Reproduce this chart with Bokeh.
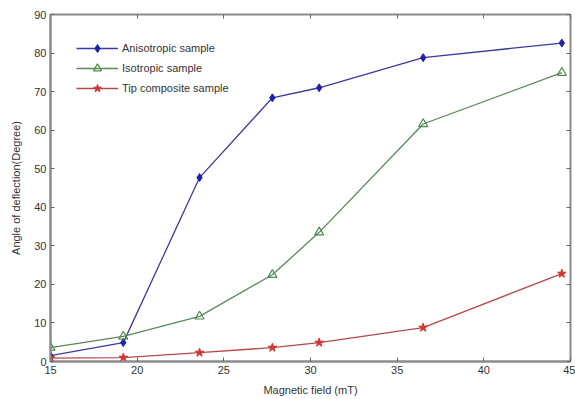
from bokeh.plotting import figure
from bokeh.models import LinearAxis, Range1d, Legend, LegendItem, FixedTicker
from bokeh.embed import file_html
from bokeh.resources import INLINE

field = [15, 19.2, 23.6, 27.8, 30.5, 36.5, 44.5]
aniso = [1.5, 4.9, 47.7, 68.4, 71.0, 78.8, 82.6]
iso = [3.6, 6.5, 11.7, 22.5, 33.5, 61.6, 74.9]
tip = [0.9, 1.0, 2.3, 3.6, 4.9, 8.8, 22.8]

x_ticks = [15, 20, 25, 30, 35, 40, 45]
y_ticks = [0, 10, 20, 30, 40, 50, 60, 70, 80, 90]

FONT = "Liberation Sans"
AX = "#8c8c8c"

p = figure(width=575, height=399, output_backend="svg", toolbar_location=None,
           x_range=Range1d(15, 45), y_range=Range1d(0, 90),
           min_border_left=50, min_border_top=14, min_border_bottom=38, min_border_right=5,
           x_axis_label="Magnetic field (mT)", y_axis_label="Angle of deflection(Degree)")
p.grid.visible = False
p.outline_line_color = AX
p.outline_line_width = 2
p.background_fill_color = "white"
p.border_fill_color = "white"

for ax in [p.xaxis[0], p.yaxis[0]]:
    ax.axis_line_color = AX
    ax.axis_line_width = 2
    ax.major_tick_in = 4
    ax.major_tick_out = 0
    ax.major_tick_line_color = "#666666"
    ax.minor_tick_line_color = None
    ax.major_label_text_font = FONT
    ax.major_label_text_font_size = "11px"
    ax.major_label_text_color = "#333333"
    ax.axis_label_text_font = FONT
    ax.axis_label_text_font_size = "11px"
    ax.axis_label_text_font_style = "normal"
    ax.axis_label_text_color = "#333333"
p.xaxis[0].ticker = FixedTicker(ticks=x_ticks)
p.yaxis[0].ticker = FixedTicker(ticks=y_ticks)
p.xaxis[0].major_label_standoff = 4
p.xaxis[0].axis_label_standoff = 7
p.yaxis[0].major_label_standoff = 4
p.yaxis[0].axis_label_standoff = 9

top = LinearAxis(ticker=FixedTicker(ticks=x_ticks), major_label_text_alpha=0,
                 major_label_text_font_size="1px", major_label_standoff=0, axis_line_color=None,
                 major_tick_in=4, major_tick_out=0, minor_tick_line_color=None,
                 major_tick_line_color="#666666")
right = LinearAxis(ticker=FixedTicker(ticks=y_ticks), major_label_text_alpha=0,
                   major_label_text_font_size="1px", major_label_standoff=0, axis_line_color=None,
                   major_tick_in=4, major_tick_out=0, minor_tick_line_color=None,
                   major_tick_line_color="#666666")
p.add_layout(top, "above")
p.add_layout(right, "right")

l1 = p.line(field, aniso, line_color="#3a3aa0", line_width=1.3)
m1 = p.scatter(field, aniso, marker="diamond", size=8, fill_color="#2020b0", line_color="#2020b0")
l2 = p.line(field, iso, line_color="#5a885a", line_width=1.3)
m2 = p.scatter(field, iso, marker="triangle", size=9, fill_color=None, line_color="#4a8a4a", line_width=1.2)
l3 = p.line(field, tip, line_color="#b84848", line_width=1.3)
m3 = p.scatter(field, tip, marker="star", size=9, fill_color="#e03030", line_color="#d03030")

legend = Legend(items=[
    LegendItem(label="Anisotropic sample", renderers=[l1, m1]),
    LegendItem(label="Isotropic sample", renderers=[l2, m2]),
    LegendItem(label="Tip composite sample", renderers=[l3, m3]),
], location=(26, 263))
legend.background_fill_alpha = 0
legend.border_line_color = None
legend.glyph_width = 42
legend.glyph_height = 20
legend.label_height = 20
legend.spacing = 0
legend.padding = 5
legend.label_standoff = 4
legend.label_text_font = FONT
legend.label_text_font_size = "11px"
legend.label_text_color = "#333333"
p.add_layout(legend, "center")

open("out.html", "w").write(file_html(p, INLINE))
